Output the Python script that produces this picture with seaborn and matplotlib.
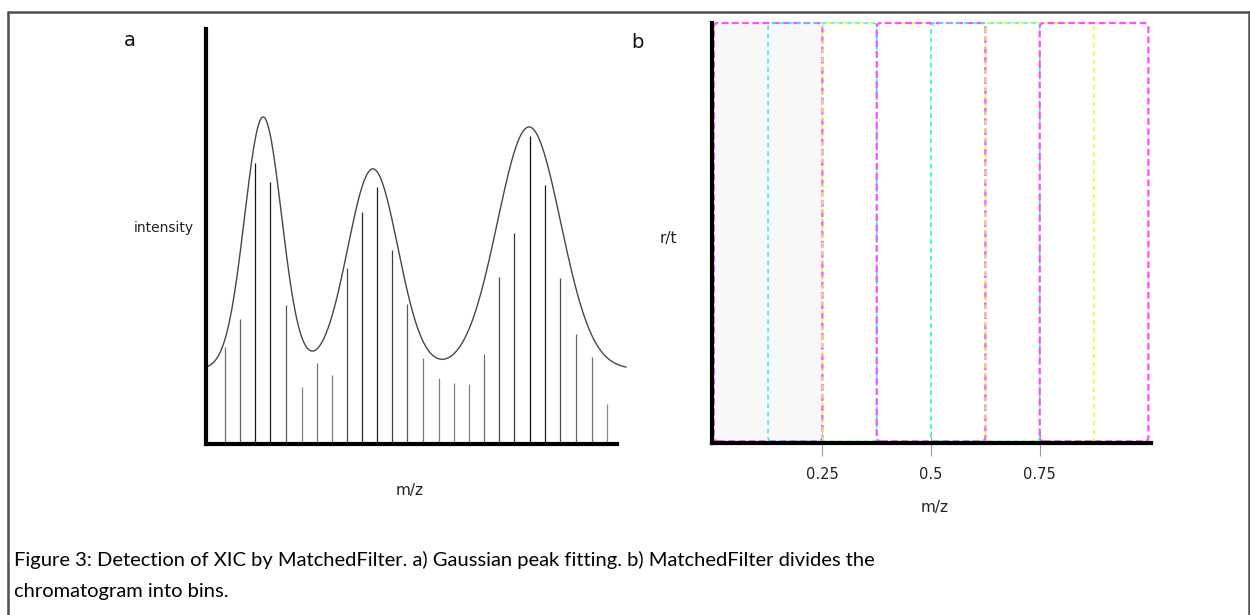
import numpy as np
import pandas as pd
import matplotlib
matplotlib.use("Agg")
import matplotlib.pyplot as plt
from matplotlib.patches import FancyBboxPatch
from matplotlib.lines import Line2D
import seaborn as sns

# ---- panel a: centroided intensities along m/z ----
stick_mz = [0.046, 0.083, 0.119, 0.156, 0.195, 0.234, 0.270, 0.307, 0.343,
            0.380, 0.416, 0.453, 0.489, 0.528, 0.567, 0.603, 0.640, 0.676,
            0.713, 0.749, 0.788, 0.825, 0.861, 0.900, 0.939, 0.976]
stick_intensity = [23.4, 30.1, 67.7, 63.1, 33.5, 13.7, 19.5, 16.6, 42.4,
                   55.9, 61.9, 46.7, 33.7, 20.7, 15.9, 14.7, 14.5, 21.7,
                   40.2, 50.8, 74.2, 62.4, 40.0, 26.5, 21.0, 9.6]

# fitted Gaussian envelope (three peaks on a flat baseline)
peak_center = [0.139, 0.406, 0.786]
peak_height = [60.8, 48.3, 58.4]
peak_sigma = [0.045, 0.061, 0.077]
fit_baseline = 18.0
fit_range = [0.003, 1.022]

# ---- panel b: overlapping MatchedFilter bins ----
bin_start = [0.0, 0.125, 0.25, 0.375, 0.5, 0.625, 0.75]
bin_width = 0.25
bin_colors = ["#ff4dff", "#1ef2f2", "#d6ff2e"]
tick_values = [0.25, 0.5, 0.75]
tick_labels = ["0.25", "0.5", "0.75"]

caption_lines = [
    "Figure 3: Detection of XIC by MatchedFilter. a) Gaussian peak fitting. b) MatchedFilter divides the",
    "chromatogram into bins.",
]

sns.set_theme(style="white")
plt.rcParams["font.family"] = ["DejaVu Sans"]

W, H = 1250, 615
fig = plt.figure(figsize=(W / 100, H / 100), dpi=100)
fig.patch.set_facecolor("white")


def px_axes(x0, y0, x1, y1):
    return fig.add_axes([x0 / W, 1 - y1 / H, (x1 - x0) / W, (y1 - y0) / H])


# ================= panel a =================
ax_a = px_axes(206, 29, 617, 444)
ax_a.set_facecolor("none")

heights = np.asarray(stick_intensity)
greys = np.clip(0.62 - 0.6 * heights / 75.0, 0.05, 0.7)
ax_a.vlines(stick_mz, 0, stick_intensity,
            colors=[(g, g, g) for g in greys], linewidth=0.9, zorder=2)

fit_x = np.linspace(fit_range[0], fit_range[1], 600)
fit_y = np.full_like(fit_x, fit_baseline)
for c, a, s in zip(peak_center, peak_height, peak_sigma):
    fit_y += a * np.exp(-((fit_x - c) ** 2) / (2 * s ** 2))
fit_df = pd.DataFrame({"mz": fit_x, "intensity": fit_y})
sns.lineplot(data=fit_df, x="mz", y="intensity", ax=ax_a, color="#474747",
             linewidth=1.0, clip_on=False, zorder=3)

ax_a.set_xlim(0, 1)
ax_a.set_ylim(0, 100)
ax_a.set_xticks([])
ax_a.set_yticks([])
sns.despine(ax=ax_a)
for side in ("left", "bottom"):
    ax_a.spines[side].set_linewidth(3)
    ax_a.spines[side].set_color("black")
    ax_a.spines[side].set_zorder(5)

ax_a.set_xlabel("m/z", fontsize=11, color="#222222")
ax_a.xaxis.set_label_coords((410 - 206) / 411, (444 - 483) / 415)
ax_a.set_ylabel("intensity", fontsize=10, color="#222222", rotation=0,
                ha="center", va="center")
ax_a.yaxis.set_label_coords((164 - 206) / 411, (444 - 228) / 415)

# ================= panel b =================
ax_b = px_axes(712, 23, 1151, 443)
ax_b.set_facecolor("none")
ax_b.set_xlim(-0.004, 1.006)
ax_b.set_ylim(-0.004, 1.0)

for i, lo in enumerate(bin_start):
    col = bin_colors[i % 3]
    is_mag = (i % 3 == 0)
    box = FancyBboxPatch((lo, 0.0), bin_width, 1.0,
                         boxstyle="round,pad=0,rounding_size=0.01",
                         facecolor="#f8f8f8" if i == 0 else "none",
                         edgecolor=col,
                         linewidth=1.6 if is_mag else 1.1,
                         linestyle=(0, (3, 1.6)) if is_mag else (i, (3, 2.5)),
                         clip_on=False, zorder=2 if i else 1)
    ax_b.add_patch(box)

ax_b.set_yticks([])
ax_b.set_xticks(tick_values, tick_labels)
ax_b.tick_params(axis="x", direction="inout", length=18, width=0.8,
                 color="#9a9a9a", labelsize=10.5, labelcolor="#222222", pad=8,
                 bottom=True)
sns.despine(ax=ax_b)
for side in ("left", "bottom"):
    ax_b.spines[side].set_linewidth(3)
    ax_b.spines[side].set_color("black")
    ax_b.spines[side].set_zorder(5)

ax_b.set_xlabel("m/z", fontsize=11, color="#222222")
ax_b.xaxis.set_label_coords((935 - 712) / 439, (443 - 500) / 420)
ax_b.set_ylabel("r/t", fontsize=11, color="#222222", rotation=0,
                ha="center", va="center")
ax_b.yaxis.set_label_coords((668 - 712) / 439, (443 - 238) / 420)

# panel letters
fig.text(130 / W, 1 - 41 / H, "a", ha="center", va="center", fontsize=14,
         color="#111111")
fig.text(637 / W, 1 - 42 / H, "b", ha="center", va="center", fontsize=14,
         color="#111111")

# caption
fig.text(14 / W, 1 - 560 / H, caption_lines[0], ha="left", va="center",
         family=["Lato", "DejaVu Sans"], fontsize=14.5, color="black")
fig.text(14 / W, 1 - 591 / H, caption_lines[1], ha="left", va="center",
         family=["Lato", "DejaVu Sans"], fontsize=14.5, color="black")

# surrounding frame
frame_kw = dict(transform=fig.transFigure, color="#505050", linewidth=1.8)
fig.add_artist(Line2D([8 / W, 8 / W], [0, 1 - 11.5 / H], **frame_kw))
fig.add_artist(Line2D([8 / W, 1.0], [1 - 11.5 / H, 1 - 11.5 / H], **frame_kw))
fig.add_artist(Line2D([1248.5 / W, 1248.5 / W], [0, 1 - 11.5 / H], **frame_kw))

fig.savefig("out.png", dpi=100, facecolor="white")
